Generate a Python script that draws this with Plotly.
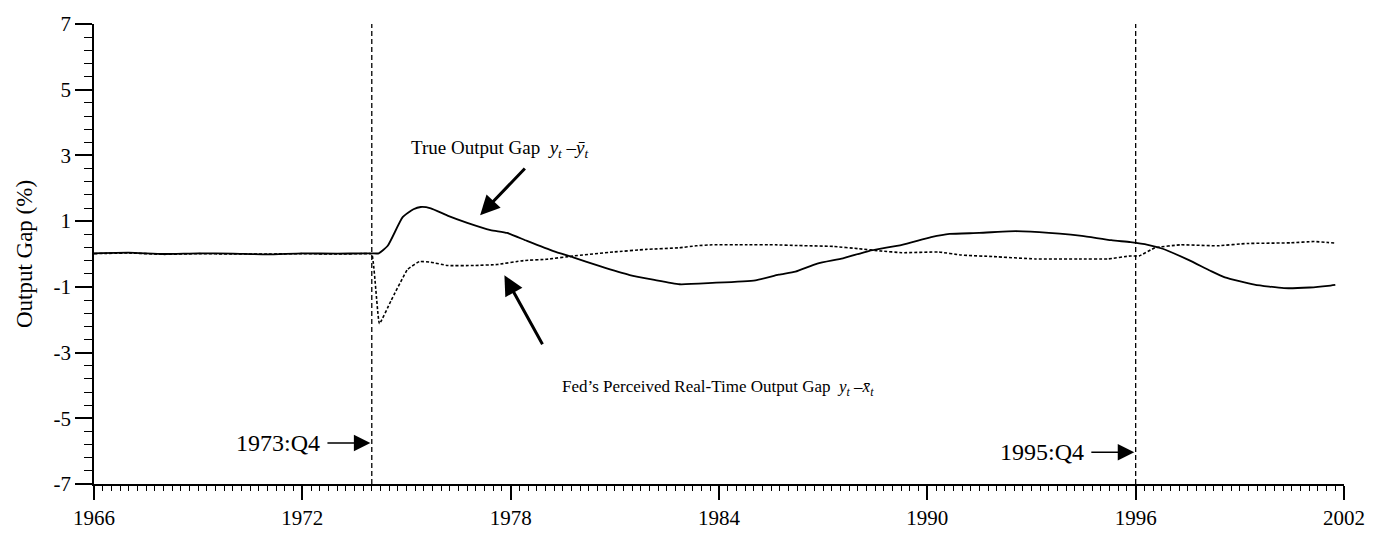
import plotly.graph_objects as go

# ---- data ----
true_years = [1966.0, 1967.0, 1968.0, 1969.0, 1970.0, 1971.0, 1972.0, 1973.0, 1973.75, 1974.0, 1974.2,
              1974.46, 1974.89, 1975.2, 1975.41, 1975.7, 1976.18, 1976.75, 1977.42, 1977.9, 1978.47,
              1979.23, 1979.8, 1980.57, 1981.43, 1982.1, 1982.86, 1983.81, 1985.05, 1985.72, 1986.2,
              1986.83, 1987.57, 1988.31, 1989.27, 1990.11, 1990.64, 1991.49, 1992.33, 1992.75, 1993.81,
              1994.45, 1995.3, 1995.85, 1996.35, 1996.78, 1997.52, 1998.15, 1998.57, 1999.42, 2000.27,
              2001.01, 2001.54, 2001.75]
true_gap = [0.02, 0.04, 0.0, 0.02, 0.01, -0.01, 0.02, 0.01, 0.02, 0.02, 0.02,
            0.25, 1.12, 1.36, 1.43, 1.39, 1.17, 0.95, 0.73, 0.64, 0.40,
            0.09, -0.10, -0.37, -0.64, -0.78, -0.92, -0.88, -0.80, -0.63, -0.54,
            -0.29, -0.13, 0.09, 0.28, 0.51, 0.61, 0.64, 0.69, 0.69, 0.62,
            0.55, 0.42, 0.36, 0.28, 0.16, -0.18, -0.51, -0.71, -0.93, -1.04,
            -1.02, -0.97, -0.94]

fed_years = [1966.0, 1967.0, 1968.0, 1969.0, 1970.0, 1971.0, 1972.0, 1973.0, 1973.75, 1974.0,
             1974.22, 1974.55, 1975.03, 1975.37, 1975.7, 1976.18, 1976.94, 1977.61, 1978.37, 1979.04,
             1979.8, 1980.95, 1981.9, 1982.86, 1983.34, 1983.81, 1984.77, 1985.62, 1986.2, 1987.29,
             1988.03, 1988.67, 1989.27, 1990.33, 1990.97, 1991.92, 1993.1, 1994.37, 1995.2, 1995.85,
             1996.1, 1996.56, 1997.3, 1998.36, 1999.21, 2000.48, 2001.12, 2001.54, 2001.75]
fed_gap = [0.01, 0.03, -0.01, 0.01, 0.0, 0.0, 0.01, 0.0, 0.01, 0.0,
           -2.12, -1.43, -0.47, -0.23, -0.25, -0.35, -0.35, -0.32, -0.20, -0.16,
           -0.06, 0.06, 0.14, 0.19, 0.25, 0.28, 0.28, 0.28, 0.26, 0.23,
           0.16, 0.09, 0.04, 0.06, -0.03, -0.08, -0.15, -0.15, -0.15, -0.06,
           -0.06, 0.19, 0.28, 0.25, 0.32, 0.34, 0.38, 0.35, 0.33]

event_dates = [1974.0, 1996.0]
event_labels = ["1973:Q4", "1995:Q4"]

x_major = [1966, 1972, 1978, 1984, 1990, 1996, 2002]
x_years = list(range(1966, 2003))
y_ticks = [-7, -5, -3, -1, 1, 3, 5, 7]
y_ticktext = ["-7", "-5", "-3", "-1", "1", "3", "5", "7"]

FONT = "Liberation Serif, Times New Roman, serif"

fig = go.Figure()
fig.add_trace(go.Scatter(x=true_years, y=true_gap, mode="lines",
                         line=dict(color="black", width=1.8, shape="spline", smoothing=0.5),
                         showlegend=False))
fig.add_trace(go.Scatter(x=fed_years, y=fed_gap, mode="lines",
                         line=dict(color="black", width=1.6, dash="3px,2px", shape="spline", smoothing=0.3),
                         showlegend=False))

for d in event_dates:
    fig.add_shape(type="line", x0=d, x1=d, y0=0, y1=1, xref="x", yref="paper",
                  line=dict(color="black", width=1.3, dash="5px,3px"))

# event arrows and labels
ev_y = [-5.75, -6.03]
for d, lab, yy in zip(event_dates, event_labels, ev_y):
    fig.add_annotation(x=d - 0.04, y=yy, ax=d - 1.32, ay=yy, xref="x", yref="y", axref="x", ayref="y",
                       showarrow=True, arrowhead=2, arrowsize=2.2, arrowwidth=1.5, arrowcolor="black",
                       text="")
    fig.add_annotation(x=d - 1.42, y=yy, xref="x", yref="y", xanchor="right", yanchor="middle",
                       text=lab, showarrow=False, font=dict(family=FONT, size=24, color="black"))

# series arrows
fig.add_annotation(x=1977.12, y=1.18, ax=1978.45, ay=2.65, xref="x", yref="y", axref="x", ayref="y",
                   showarrow=True, arrowhead=2, arrowsize=1.3, arrowwidth=3, arrowcolor="black", text="")
fig.add_annotation(x=1977.82, y=-0.65, ax=1978.94, ay=-2.79, xref="x", yref="y", axref="x", ayref="y",
                   showarrow=True, arrowhead=2, arrowsize=1.3, arrowwidth=3, arrowcolor="black", text="")

fig.add_annotation(x=1975.08, y=3.2, xref="x", yref="y", xanchor="left", yanchor="middle",
                   text="True Output Gap  <i>y<sub>t</sub></i> –<i>ȳ<sub>t</sub></i>",
                   showarrow=False, font=dict(family=FONT, size=19, color="black"))
fig.add_annotation(x=1979.42, y=-4.09, xref="x", yref="y", xanchor="left", yanchor="middle",
                   text="Fed’s Perceived Real-Time Output Gap  <i>y<sub>t</sub></i> –<i>x̄<sub>t</sub></i>",
                   showarrow=False, font=dict(family=FONT, size=17, color="black"))

fig.update_layout(
    width=1377, height=542,
    margin=dict(l=94, r=33, t=20, b=42),
    paper_bgcolor="white", plot_bgcolor="white",
    font=dict(family=FONT, size=21, color="black"),
    xaxis=dict(range=[1966, 2002], tickmode="array", tickvals=x_major,
               ticktext=[str(v) for v in x_major], ticks="outside", ticklen=14, tickwidth=1.5,
               tickcolor="black", showline=True, linecolor="black", linewidth=1.5,
               showgrid=False, zeroline=False,
               tickfont=dict(family=FONT, size=21),
               minor=dict(tickmode="linear", tick0=1966, dtick=0.25, ticks="outside", ticklen=5,
                          tickwidth=1, tickcolor="black", showgrid=False)),
    xaxis2=dict(range=[1966, 2002], matches="x", overlaying="x", anchor="y", side="bottom",
                tickmode="array", tickvals=x_years, ticks="outside", ticklen=8, tickwidth=1.2,
                tickcolor="black", showticklabels=False, showline=False, showgrid=False,
                zeroline=False),
    yaxis=dict(range=[-7, 7], tickmode="array", tickvals=y_ticks, ticktext=y_ticktext,
               ticks="outside", ticklen=17, tickwidth=1.5, tickcolor="black",
               showline=True, linecolor="black", linewidth=1.5, showgrid=False, zeroline=False,
               tickfont=dict(family=FONT, size=21),
               title=dict(text="Output Gap (%)", font=dict(family=FONT, size=23), standoff=14),
               minor=dict(tickmode="linear", tick0=-7, dtick=0.4, ticks="outside", ticklen=8,
                          tickwidth=1.2, tickcolor="black", showgrid=False)),
)

fig.write_html("out.html")
